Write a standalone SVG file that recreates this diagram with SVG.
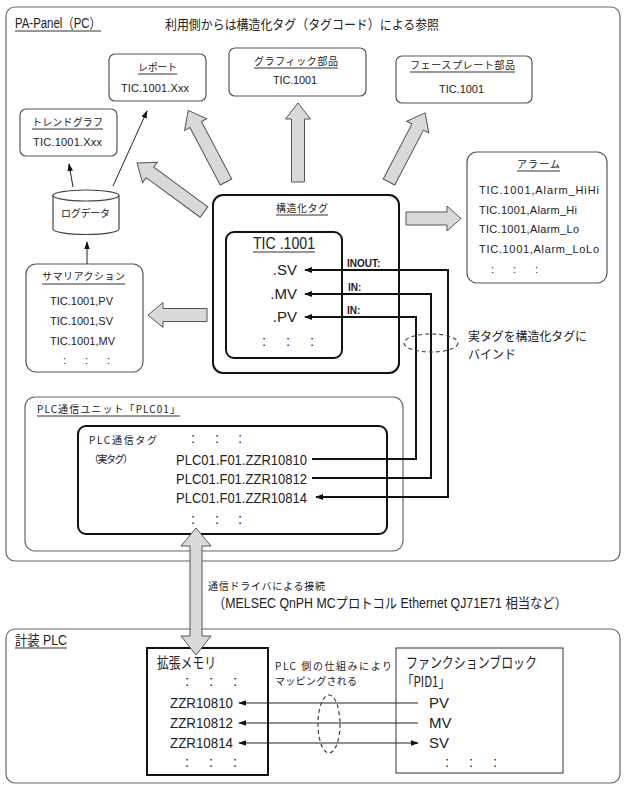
<svg xmlns="http://www.w3.org/2000/svg" width="626" height="790" viewBox="0 0 626 790">
<style>
text{font-family:"Liberation Sans","Noto Sans CJK JP",sans-serif;fill:#222}
.jp{font-family:"Noto Sans CJK JP","Liberation Sans",sans-serif}
.s{font-size:10px}
.m{font-size:11px}
.l{font-size:14px}
.xl{font-size:15px}
.b{font-weight:bold;font-size:10px}
.grp{fill:#fff;stroke:#666;stroke-width:1.2}
.sbox{fill:#fff;stroke:#555;stroke-width:1.2}
.kbox{fill:#fff;stroke:#111;stroke-width:2}
.ul{stroke:#333;stroke-width:1}
.blk{fill:#d9d9d9;stroke:#555;stroke-width:1}
.ln{fill:none;stroke:#111;stroke-width:2}
.thin{fill:none;stroke:#222;stroke-width:1}
.dash{fill:none;stroke:#444;stroke-width:1.2;stroke-dasharray:4 3}
</style>
<defs>
<marker id="ah" viewBox="0 0 10 10" refX="9" refY="5" markerWidth="4" markerHeight="4" orient="auto-start-reverse"><path d="M0,1 L10,5 L0,9 z" fill="#111"/></marker>
<marker id="ah2" viewBox="0 0 10 10" refX="9" refY="5" markerWidth="8" markerHeight="8" orient="auto-start-reverse"><path d="M0,1.5 L10,5 L0,8.5 z" fill="#111"/></marker>
</defs>
<rect width="626" height="790" fill="#fff"/>

<g id="pa-panel">
<rect class="grp" x="6" y="7" width="614" height="554" rx="9"/>
<text class="l" x="15" y="28" textLength="86" lengthAdjust="spacingAndGlyphs">PA-Panel（PC）</text>
<line class="ul" x1="15" y1="31" x2="101" y2="31"/>
<text class="jp" x="165" y="29" font-size="13" textLength="274" lengthAdjust="spacingAndGlyphs">利用側からは構造化タグ（タグコード）による参照</text>
</g>

<g id="trend">
<rect class="sbox" x="20" y="109" width="97" height="47" rx="6"/>
<text class="jp s" x="32" y="126" textLength="71" lengthAdjust="spacing">トレンドグラフ</text>
<line class="ul" x1="32" y1="129" x2="103" y2="129"/>
<text class="m" x="33" y="146" textLength="69" lengthAdjust="spacing">TIC.1001.Xxx</text>
</g>

<g id="report">
<rect class="sbox" x="109" y="54" width="97" height="47" rx="6"/>
<text class="jp s" x="138" y="71" textLength="39" lengthAdjust="spacing">レポート</text>
<line class="ul" x1="138" y1="74" x2="177" y2="74"/>
<text class="m" x="121" y="92" textLength="68" lengthAdjust="spacing">TIC.1001.Xxx</text>
</g>

<g id="graphic">
<rect class="sbox" x="229" y="48" width="137" height="48" rx="6"/>
<text class="jp s" x="254" y="65" textLength="84" lengthAdjust="spacing">グラフィック部品</text>
<line class="ul" x1="254" y1="68" x2="338" y2="68"/>
<text class="m" x="273" y="84" textLength="44" lengthAdjust="spacing">TIC.1001</text>
</g>

<g id="faceplate">
<rect class="sbox" x="396" y="56" width="136" height="47" rx="6"/>
<text class="jp s" x="410" y="69" textLength="105" lengthAdjust="spacing">フェースプレート部品</text>
<line class="ul" x1="410" y1="72" x2="515" y2="72"/>
<text class="m" x="439" y="93" textLength="45" lengthAdjust="spacing">TIC.1001</text>
</g>

<g id="alarm">
<rect class="sbox" x="467" y="152" width="140" height="131" rx="10"/>
<text class="jp s" x="517" y="168" textLength="43" lengthAdjust="spacing">アラーム</text>
<line class="ul" x1="517" y1="171" x2="560" y2="171"/>
<text class="m" x="479" y="194" textLength="120" lengthAdjust="spacing">TIC.1001,Alarm_HiHi</text>
<text class="m" x="479" y="214" textLength="98" lengthAdjust="spacing">TIC.1001,Alarm_Hi</text>
<text class="m" x="479" y="233" textLength="100" lengthAdjust="spacing">TIC.1001,Alarm_Lo</text>
<text class="m" x="479" y="253" textLength="120" lengthAdjust="spacing">TIC.1001,Alarm_LoLo</text>
<text class="m" x="491" y="273">:</text><text class="m" x="513" y="273">:</text><text class="m" x="535" y="273">:</text>
</g>

<g id="logdata">
<path d="M53,195.5 V229 A33,5.5 0 0 0 119,229 V195.5" fill="#fff" stroke="#444" stroke-width="1.2"/>
<ellipse cx="86" cy="195.5" rx="33" ry="5.5" fill="#fff" stroke="#444" stroke-width="1.2"/>
<text class="jp s" x="61" y="217" textLength="49" lengthAdjust="spacing">ログデータ</text>
</g>

<g id="summary">
<rect class="sbox" x="26" y="264" width="117" height="108" rx="10"/>
<text class="jp s" x="42" y="280" textLength="83" lengthAdjust="spacing">サマリアクション</text>
<line class="ul" x1="42" y1="284" x2="125" y2="284"/>
<text class="m" x="50" y="305" textLength="63" lengthAdjust="spacing">TIC.1001,PV</text>
<text class="m" x="50" y="325" textLength="63" lengthAdjust="spacing">TIC.1001,SV</text>
<text class="m" x="50" y="345" textLength="65" lengthAdjust="spacing">TIC.1001,MV</text>
<text class="m" x="63" y="364">:</text><text class="m" x="85" y="364">:</text><text class="m" x="107" y="364">:</text>
</g>

<g id="struct-tag">
<rect class="kbox" x="213" y="195" width="186" height="178" rx="10"/>
<text class="jp s" x="276" y="212" textLength="52" lengthAdjust="spacing">構造化タグ</text>
<line class="ul" x1="276" y1="215" x2="328" y2="215"/>
<rect class="kbox" x="226" y="232" width="116" height="126" rx="8"/>
<text x="253" y="249" font-size="17" textLength="62" lengthAdjust="spacingAndGlyphs">TIC .1001</text>
<line class="ul" x1="253" y1="252" x2="315" y2="252"/>
<text class="xl" x="297" y="275" text-anchor="end">.SV</text>
<text class="xl" x="297" y="299" text-anchor="end">.MV</text>
<text class="xl" x="297" y="322" text-anchor="end">.PV</text>
<text class="xl" x="262" y="346">:</text><text class="xl" x="286" y="346">:</text><text class="xl" x="310" y="346">:</text>
</g>

<g id="plc-unit">
<rect class="grp" x="25" y="397" width="378" height="154" rx="10"/>
<text class="jp s" x="37" y="413" textLength="143" lengthAdjust="spacing">PLC通信ユニット「PLC01」</text>
<line class="ul" x1="37" y1="416" x2="180" y2="416"/>
<rect class="kbox" x="78" y="426" width="309" height="108" rx="8"/>
<text class="jp s" x="89" y="444" textLength="68" lengthAdjust="spacing">PLC通信タグ</text>
<text class="jp s" x="89" y="463" textLength="44" lengthAdjust="spacing">（実タグ）</text>
<text class="xl" x="191" y="443">:</text><text class="xl" x="215" y="443">:</text><text class="xl" x="238" y="443">:</text>
<text class="xl" x="176" y="465" textLength="131" lengthAdjust="spacingAndGlyphs">PLC01.F01.ZZR10810</text>
<text class="xl" x="176" y="484" textLength="131" lengthAdjust="spacingAndGlyphs">PLC01.F01.ZZR10812</text>
<text class="xl" x="176" y="503" textLength="131" lengthAdjust="spacingAndGlyphs">PLC01.F01.ZZR10814</text>
<text class="xl" x="191" y="524">:</text><text class="xl" x="215" y="524">:</text><text class="xl" x="238" y="524">:</text>
</g>

<g id="keiso-plc">
<rect class="grp" x="6" y="629" width="614" height="154" rx="9"/>
<text class="l" x="15" y="645" textLength="52" lengthAdjust="spacingAndGlyphs">計装 PLC</text>
<line class="ul" x1="15" y1="648" x2="67" y2="648"/>
</g>

<g id="ext-memory">
<rect x="147" y="648" width="121" height="127" fill="#fff" stroke="#111" stroke-width="2"/>
<text class="jp xl" x="157" y="668" textLength="59" lengthAdjust="spacingAndGlyphs">拡張メモリ</text>
<text class="xl" x="185" y="686">:</text><text class="xl" x="209" y="686">:</text><text class="xl" x="233" y="686">:</text>
<text class="xl" x="170" y="708" textLength="63" lengthAdjust="spacingAndGlyphs">ZZR10810</text>
<text class="xl" x="170" y="728" textLength="63" lengthAdjust="spacingAndGlyphs">ZZR10812</text>
<text class="xl" x="170" y="748" textLength="63" lengthAdjust="spacingAndGlyphs">ZZR10814</text>
<text class="xl" x="185" y="767">:</text><text class="xl" x="209" y="767">:</text><text class="xl" x="233" y="767">:</text>
</g>

<g id="function-block">
<rect x="396" y="648" width="167" height="125" fill="#fff" stroke="#333" stroke-width="1"/>
<text class="jp xl" x="406" y="668" textLength="131" lengthAdjust="spacingAndGlyphs">ファンクションブロック</text>
<text class="jp xl" x="402" y="687" textLength="48" lengthAdjust="spacingAndGlyphs">「PID1」</text>
<text class="xl" x="429" y="708">PV</text>
<text class="xl" x="429" y="728">MV</text>
<text class="xl" x="429" y="748">SV</text>
<text class="xl" x="445" y="767">:</text><text class="xl" x="469" y="767">:</text><text class="xl" x="493" y="767">:</text>
</g>

<g id="connectors">
<!-- block arrows -->
<g transform="translate(298,182) rotate(-90)"><polygon class="blk" points="0,-6.5 63,-6.5 63,-12.5 79,0 63,12.5 63,6.5 0,6.5"/></g>
<g transform="translate(226,182) rotate(-117.8)"><polygon class="blk" points="0,-6.5 65,-6.5 65,-12.5 81,0 65,12.5 65,6.5 0,6.5"/></g>
<g transform="translate(204,212) rotate(-143.8)"><polygon class="blk" points="0,-6.5 67,-6.5 67,-12.5 83,0 67,12.5 67,6.5 0,6.5"/></g>
<g transform="translate(389,182) rotate(-62.4)"><polygon class="blk" points="0,-6.5 62,-6.5 62,-12.5 78,0 62,12.5 62,6.5 0,6.5"/></g>
<g transform="translate(406,218.5) rotate(0)"><polygon class="blk" points="0,-6.5 41,-6.5 41,-12.5 55,0 41,12.5 41,6.5 0,6.5"/></g>
<g transform="translate(207,315) rotate(180)"><polygon class="blk" points="0,-6.5 44,-6.5 44,-12.5 59,0 44,12.5 44,6.5 0,6.5"/></g>
<polygon class="blk" points="196,528 211,546 202,546 202,636 211,636 196,655 181,636 190,636 190,546 181,546" stroke-width="1.5"/>

<!-- thin arrows in PA panel -->
<line class="thin" x1="73" y1="187" x2="69" y2="164" stroke-width="1.3" marker-end="url(#ah2)"/>
<line class="thin" x1="113" y1="186" x2="147" y2="111" stroke-width="1.3" marker-end="url(#ah2)"/>
<line class="thin" x1="87" y1="264" x2="87" y2="242" stroke-width="1.3" marker-end="url(#ah2)"/>

<!-- binding lines -->
<polyline class="ln" points="312,459 416,459 416,317 305,317" marker-end="url(#ah)"/>
<polyline class="ln" points="312,478 431,478 431,294 305,294" marker-end="url(#ah)"/>
<polyline class="ln" points="316,497 448,497 448,270 305,270" marker-start="url(#ah)" marker-end="url(#ah)"/>
<text class="b" x="347" y="267">INOUT:</text>
<text class="b" x="348" y="291">IN:</text>
<text class="b" x="347" y="314">IN:</text>
<ellipse class="dash" cx="431" cy="343" rx="27" ry="9"/>
<text class="jp" x="468" y="341" font-size="12.5" textLength="119" lengthAdjust="spacingAndGlyphs">実タグを構造化タグに</text>
<text class="jp" x="468" y="359" font-size="12.5" textLength="48" lengthAdjust="spacingAndGlyphs">バインド</text>

<!-- driver label -->
<text class="jp s" x="208" y="590" textLength="117" lengthAdjust="spacing">通信ドライバによる接続</text>
<text class="l" x="213" y="608" textLength="354" lengthAdjust="spacingAndGlyphs">（MELSEC QnPH MCプロトコル Ethernet QJ71E71 相当など）</text>

<!-- PLC mapping -->
<line class="thin" x1="418" y1="703" x2="239" y2="703" marker-end="url(#ah2)"/>
<line class="thin" x1="418" y1="723" x2="239" y2="723" marker-end="url(#ah2)"/>
<line class="thin" x1="239" y1="743" x2="418" y2="743" marker-start="url(#ah2)" marker-end="url(#ah2)"/>
<ellipse class="dash" cx="329" cy="724" rx="11" ry="29"/>
<text class="jp s" x="275" y="670" textLength="117" lengthAdjust="spacing">PLC 側の仕組みにより</text>
<text class="jp s" x="275" y="685" textLength="82" lengthAdjust="spacing">マッピングされる</text>
</g>
</svg>
